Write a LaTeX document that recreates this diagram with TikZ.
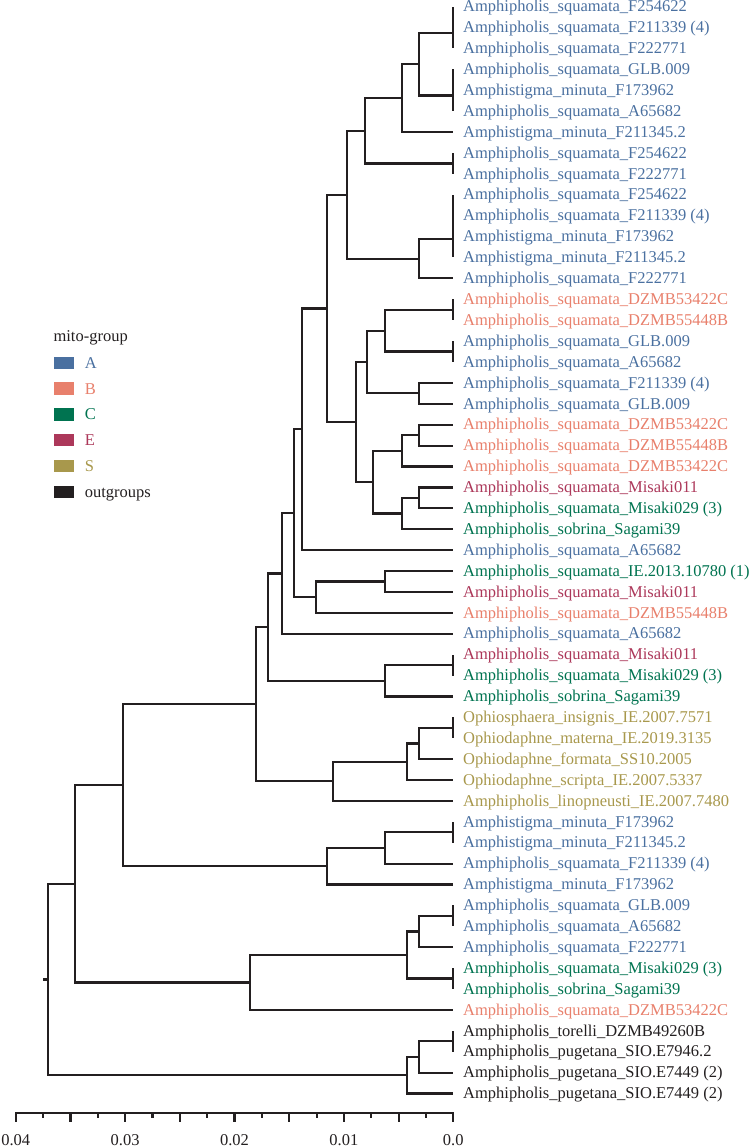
\documentclass[tikz,border=0pt]{standalone}
\usepackage{fontspec}
\setmainfont{Liberation Serif}
\definecolor{cA}{HTML}{4A70A0}
\definecolor{cB}{HTML}{E8806C}
\definecolor{cC}{HTML}{007350}
\definecolor{cE}{HTML}{AC385A}
\definecolor{cS}{HTML}{A8984C}
\definecolor{cK}{HTML}{231F20}
\begin{document}
\begin{tikzpicture}[x=1pt,y=-1pt,
  br/.style={line width=2.2pt, cK},
  leaf/.style={inner sep=0pt, anchor=base west, font=\fontsize{16.5}{19}\selectfont},
  tick/.style={line width=2.2pt, cK},
  sq/.style={inner sep=0pt, minimum width=20.7pt, minimum height=12.3pt, anchor=west}]
\useasboundingbox (0,0) rectangle (752,1147);

% leaves
\foreach \i/\c/\t in {
 1/A/{Amphipholis\_squamata\_F254622},
 2/A/{Amphipholis\_squamata\_F211339 (4)},
 3/A/{Amphipholis\_squamata\_F222771},
 4/A/{Amphipholis\_squamata\_GLB.009},
 5/A/{Amphistigma\_minuta\_F173962},
 6/A/{Amphipholis\_squamata\_A65682},
 7/A/{Amphistigma\_minuta\_F211345.2},
 8/A/{Amphipholis\_squamata\_F254622},
 9/A/{Amphipholis\_squamata\_F222771},
 10/A/{Amphipholis\_squamata\_F254622},
 11/A/{Amphipholis\_squamata\_F211339 (4)},
 12/A/{Amphistigma\_minuta\_F173962},
 13/A/{Amphistigma\_minuta\_F211345.2},
 14/A/{Amphipholis\_squamata\_F222771},
 15/B/{Amphipholis\_squamata\_DZMB53422C},
 16/B/{Amphipholis\_squamata\_DZMB55448B},
 17/A/{Amphipholis\_squamata\_GLB.009},
 18/A/{Amphipholis\_squamata\_A65682},
 19/A/{Amphipholis\_squamata\_F211339 (4)},
 20/A/{Amphipholis\_squamata\_GLB.009},
 21/B/{Amphipholis\_squamata\_DZMB53422C},
 22/B/{Amphipholis\_squamata\_DZMB55448B},
 23/B/{Amphipholis\_squamata\_DZMB53422C},
 24/E/{Amphipholis\_squamata\_Misaki011},
 25/C/{Amphipholis\_squamata\_Misaki029 (3)},
 26/C/{Amphipholis\_sobrina\_Sagami39},
 27/A/{Amphipholis\_squamata\_A65682},
 28/C/{Amphipholis\_squamata\_IE.2013.10780 (1)},
 29/E/{Amphipholis\_squamata\_Misaki011},
 30/B/{Amphipholis\_squamata\_DZMB55448B},
 31/A/{Amphipholis\_squamata\_A65682},
 32/E/{Amphipholis\_squamata\_Misaki011},
 33/C/{Amphipholis\_squamata\_Misaki029 (3)},
 34/C/{Amphipholis\_sobrina\_Sagami39},
 35/S/{Ophiosphaera\_insignis\_IE.2007.7571},
 36/S/{Ophiodaphne\_materna\_IE.2019.3135},
 37/S/{Ophiodaphne\_formata\_SS10.2005},
 38/S/{Ophiodaphne\_scripta\_IE.2007.5337},
 39/S/{Amphipholis\_linopneusti\_IE.2007.7480},
 40/A/{Amphistigma\_minuta\_F173962},
 41/A/{Amphistigma\_minuta\_F211345.2},
 42/A/{Amphipholis\_squamata\_F211339 (4)},
 43/A/{Amphistigma\_minuta\_F173962},
 44/A/{Amphipholis\_squamata\_GLB.009},
 45/A/{Amphipholis\_squamata\_A65682},
 46/A/{Amphipholis\_squamata\_F222771},
 47/C/{Amphipholis\_squamata\_Misaki029 (3)},
 48/C/{Amphipholis\_sobrina\_Sagami39},
 49/B/{Amphipholis\_squamata\_DZMB53422C},
 50/K/{Amphipholis\_torelli\_DZMB49260B},
 51/K/{Amphipholis\_pugetana\_SIO.E7946.2},
 52/K/{Amphipholis\_pugetana\_SIO.E7449 (2)},
 53/K/{Amphipholis\_pugetana\_SIO.E7449 (2)}}{
  \pgfmathsetmacro{\yy}{6.7+(\i-1)*20.9}
  \coordinate (t\i) at (453.3,\yy);
  \node[leaf,text=c\c] (l\i) at (463,\yy+5.2) {\t};
}

% internal nodes
\coordinate (a1a) at (453.3,17.15);
\coordinate (a1) at (453.3,32.825);
\coordinate (a2a) at (453.3,79.85);
\coordinate (a2) at (453.3,95.525);
\coordinate (nB) at (419.3,64.175);
\coordinate (nC) at (401.7,98.14);
\coordinate (d89) at (453.3,163.45);
\coordinate (nD) at (365,130.8);
\coordinate (f1) at (453.3,205.25);
\coordinate (f2) at (453.3,220.925);
\coordinate (f3) at (453.3,239.2);
\coordinate (nG) at (419.3,258.8);
\coordinate (nE) at (347.3,194.8);
\coordinate (m1) at (453.3,309.75);
\coordinate (m2) at (453.3,351.55);
\coordinate (nM) at (385,330.65);
\coordinate (nN) at (419.3,393.35);
\coordinate (nK) at (367.3,362.0);
\coordinate (nQ) at (419.3,435.15);
\coordinate (nP) at (401.7,450.825);
\coordinate (nS) at (419.3,497.85);
\coordinate (nR) at (401.7,513.525);
\coordinate (nO) at (372.7,482.175);
\coordinate (nJ) at (356,422.09);
\coordinate (nH) at (327.3,308.44);
\coordinate (nI) at (301.7,429.27);
\coordinate (nW) at (385,581.45);
\coordinate (nV) at (315.7,597.125);
\coordinate (nT) at (294,513.2);
\coordinate (nU) at (282.3,573.45);
\coordinate (y1) at (453.3,665.05);
\coordinate (nY) at (385,680.725);
\coordinate (nX) at (268.3,627.09);
\coordinate (z1) at (453.3,727.75);
\coordinate (z2) at (419.3,743.425);
\coordinate (z3) at (407.3,761.71);
\coordinate (nZ) at (332.7,781.3);
\coordinate (n256) at (256,704.2);
\coordinate (g1) at (453.3,832.25);
\coordinate (g2) at (385,847.925);
\coordinate (g3) at (327.3,866.2);
\coordinate (n122) at (122.7,785.2);
\coordinate (h1) at (453.3,915.85);
\coordinate (h2) at (419.3,931.525);
\coordinate (h3) at (453.3,978.55);
\coordinate (h4) at (407.3,955.04);
\coordinate (n250) at (250,982.47);
\coordinate (n75) at (75,883.84);
\coordinate (o1) at (453.3,1041.25);
\coordinate (o2) at (419.3,1056.925);
\coordinate (o3) at (407.3,1075.21);
\coordinate (root) at (47.7,979.5);
\coordinate (rs) at (43.3,979.5);

% edges (parent |- child)
\foreach \p/\ch in {
 a1a/t1, a1a/t2, a1/a1a, a1/t3,
 a2a/t4, a2a/t5, a2/a2a, a2/t6,
 nB/a1, nB/a2, nC/nB, nC/t7,
 d89/t8, d89/t9, nD/nC, nD/d89,
 f1/t10, f1/t11, f2/f1, f2/t12, f3/f2, f3/t13,
 nG/f3, nG/t14, nE/nD, nE/nG,
 m1/t15, m1/t16, m2/t17, m2/t18, nM/m1, nM/m2,
 nN/t19, nN/t20, nK/nM, nK/nN,
 nQ/t21, nQ/t22, nP/nQ, nP/t23,
 nS/t24, nS/t25, nR/nS, nR/t26,
 nO/nP, nO/nR, nJ/nK, nJ/nO,
 nH/nE, nH/nJ, nI/nH, nI/t27,
 nW/t28, nW/t29, nV/nW, nV/t30,
 nT/nI, nT/nV, nU/nT, nU/t31,
 y1/t32, y1/t33, nY/y1, nY/t34,
 nX/nU, nX/nY,
 z1/t35, z1/t36, z2/z1, z2/t37, z3/z2, z3/t38, nZ/z3, nZ/t39,
 n256/nX, n256/nZ,
 g1/t40, g1/t41, g2/g1, g2/t42, g3/g2, g3/t43,
 n122/n256, n122/g3,
 h1/t44, h1/t45, h2/h1, h2/t46, h3/t47, h3/t48, h4/h2, h4/h3,
 n250/h4, n250/t49,
 n75/n122, n75/n250,
 o1/t50, o1/t51, o2/o1, o2/t52, o3/o2, o3/t53,
 root/n75, root/o3}{
  \draw[br] (\p) |- (\ch);
}
\draw[br] (rs) -- (root);

% axis
\coordinate (ax0) at (15.7,1113);
\coordinate (ax1) at (453.3,1113);
\draw[tick] (ax0) -- (ax1);
\foreach \k in {0,...,8}{
  \draw[tick] (453.3-\k*54.7,1112) -- (453.3-\k*54.7,1122);
}
\foreach \k in {0,...,7}{
  \draw[tick] (426-\k*54.7,1112) -- (426-\k*54.7,1117.5);
}
\foreach \k/\lab in {0/0.0,1/0.01,2/0.02,3/0.03,4/0.04}{
  \node[leaf, anchor=base, text=cK] (ax\k) at (453.3-\k*109.4,1145.5) {\lab};
}

% legend
\node[leaf, text=cK] (lgt) at (53.3,341.5) {mito-group};
\foreach \k/\c/\t in {0/A/A,1/B/B,2/C/C,3/E/E,4/S/S,5/K/outgroups}{
  \pgfmathsetmacro{\yc}{362.8+25.8*\k}
  \node[sq, fill=c\c] (sq\k) at (53.3,\yc) {};
  \node[leaf, text=c\c] (lg\k) at (84.7,\yc+5.4) {\t};
}
\end{tikzpicture}
\end{document}
